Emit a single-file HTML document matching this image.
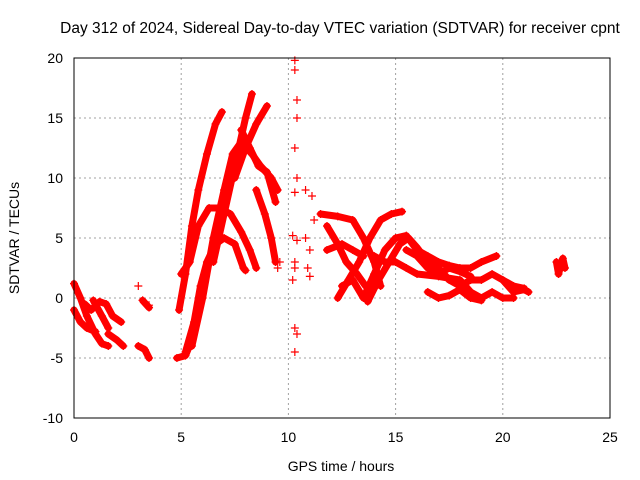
<!DOCTYPE html>
<html><head><meta charset="utf-8"><style>
body{margin:0;background:#fff;}
svg{display:block;font-family:"Liberation Sans",sans-serif;}
</style></head><body>
<svg id="chart" width="640" height="480">
<rect width="640" height="480" fill="#fff"/>
<text x="340" y="33" font-size="15.5" text-anchor="middle">Day 312 of 2024, Sidereal Day-to-day VTEC variation (SDTVAR) for receiver cpnt</text>
<text x="341" y="471" font-size="14" text-anchor="middle">GPS time / hours</text>
<text transform="translate(19,238) rotate(-90)" font-size="14" text-anchor="middle">SDTVAR / TECUs</text>
<g id="grid"></g><g id="marks"></g>
<rect x="74" y="58" width="536" height="360" fill="none" stroke="#000" stroke-width="1"/>
</svg>
<script>
const xTicks=[0,5,10,15,20,25];
const yTicks=[-10,-5,0,5,10,15,20];
const tracks=[
[[0,1.2],[0.3,0],[0.6,-1.5],[1,-3],[1.3,-3.8],[1.6,-4]],
[[0,-1],[0.3,-2],[0.6,-2.5],[1,-2.8]],
[[0.5,-0.5],[0.8,-1],[1.2,-0.3],[1.5,-0.5],[1.8,-1.5],[2.2,-2]],
[[1.6,-3],[2,-3.5],[2.3,-4]],
[[0.9,-0.2],[1.3,-1.5],[1.6,-2.5]],
[[3,-4],[3.3,-4.3],[3.5,-5]],
[[3.2,-0.2],[3.5,-0.8]],
[[4.8,-5],[5.2,-4.8],[5.5,-3.5]],
[[4.9,-1],[5.2,2],[5.5,6],[5.8,9],[6.2,12],[6.6,14.5],[6.9,15.5]],
[[5,2],[5.4,3],[5.8,6],[6.3,7.5],[6.8,7.5],[7.3,7],[7.8,5.5],[8.2,4],[8.5,2.5]],
[[5.2,-4.5],[5.6,-2],[5.9,1],[6.2,3],[6.6,4.5],[7,5],[7.5,4.5],[7.9,2.5],[8,2.3]],
[[5.5,-4],[6,0],[6.5,5],[7,9],[7.4,12],[7.8,13],[8.3,12],[8.7,11],[9.2,10],[9.5,9]],
[[6.5,3],[7,7],[7.5,11],[8,15],[8.3,17]],
[[7.5,10],[8,12.5],[8.5,14.5],[9,16]],
[[7.8,14],[8.2,12.5],[8.6,11],[9,10.5],[9.4,8]],
[[8.5,9],[8.9,7],[9.2,5],[9.4,3]],
[[11.5,7],[12.3,6.8],[13,6.5],[13.5,5],[14,3],[14.3,1]],
[[11.8,6],[12.3,4.5],[12.7,3],[13.2,2],[13.6,1]],
[[11.8,4],[12.5,4.5],[13,4],[13.5,3.5]],
[[12.3,0],[12.8,1.5],[13.3,3],[13.8,5],[14.3,6.5],[14.8,7],[15.3,7.2]],
[[12.5,1],[13,1.5],[13.5,0],[14,2],[14.5,4],[15,5],[15.5,5.2],[16,4],[16.5,3.5],[17,3],[17.5,2.7],[18,2.5],[18.5,2.5],[19,3],[19.7,3.5]],
[[13.7,-0.3],[14.2,1.5],[14.7,3],[15.2,4.5],[15.6,5],[16,4.2],[16.5,3],[17,2.5],[17.5,1.5],[18,1],[18.5,1.5],[19,1.5],[19.5,2],[20,1.5],[20.5,1],[21,0.8]],
[[14,3.5],[14.5,3],[15,3],[15.5,2.5],[16,2],[17,1.8],[18,1.5],[18.5,0.5],[19,0],[19.5,0.5],[20,0],[20.5,0]],
[[15.5,4],[16,3.5],[16.5,2.5],[17,2],[17.5,2.5],[18,2.2],[18.5,1.8]],
[[16.5,0.5],[17,0],[17.5,0.2],[18,0.7],[18.5,0],[19,-0.2]],
[[20,1.5],[20.5,0.5],[21,0.7],[21.2,0.5]],
[[22.5,3],[22.6,2],[22.8,3.3],[22.9,2.5]]
];
const scatterX=[3,3.2,3.5,10.3,10.3,10.4,10.4,10.3,10.4,10.3,10.2,10.4,10.3,10.3,10.2,10.4,10.3,10.3,10.8,11.1,10.8,11,10.9,11,11.2,9.5,9.6];
const scatterY=[1,-0.2,-0.6,19.8,19,16.5,15,12.5,10,8.8,5.2,4.8,3,2.5,1.5,-3,-4.5,-2.5,9,8.5,5,4,2.5,1.8,6.5,2.5,3];
const X=v=>74+v*536/25, Y=v=>418-(v+10)*12;
const NS="http://www.w3.org/2000/svg";
const svg=document.getElementById('chart'),grid=document.getElementById('grid'),marks=document.getElementById('marks');
function mk(t,a,p){const e=document.createElementNS(NS,t);for(const k in a)e.setAttribute(k,a[k]);p.appendChild(e);return e;}
xTicks.forEach(v=>{
 if(v>0&&v<25){const g=mk('line',{x1:X(v),x2:X(v),y1:58,y2:418,stroke:'#a0a0a0','stroke-dasharray':'2,3'},grid);
 
 }
 const t=mk('text',{x:X(v),y:442,'font-size':14,'text-anchor':'middle'},svg);t.textContent=v;
 
 
});
yTicks.forEach(v=>{
 if(v>-10&&v<20){const g=mk('line',{x1:74,x2:610,y1:Y(v),y2:Y(v),stroke:'#a0a0a0','stroke-dasharray':'2,3'},grid);
 
 }
 const t=mk('text',{x:63,y:Y(v)+5,'font-size':14,'text-anchor':'end'},svg);t.textContent=v;
 
 
});
function plus(x,y){
 const p=mk('path',{d:`M${X(x)-4},${Y(y)}h8M${X(x)},${Y(y)-4}v8`,stroke:'#f00','stroke-width':1.2},marks);
 
 
}
tracks.forEach(tr=>{
 const pl=mk('polyline',{points:tr.map(p=>X(p[0])+','+Y(p[1])).join(' '),fill:'none',stroke:'#f00','stroke-width':7,'stroke-linejoin':'round','stroke-linecap':'round'},marks);
 
 
 tr.forEach(p=>plus(p[0],p[1]));
});
scatterX.forEach((x,i)=>plus(x,scatterY[i]));
</script>
</body></html>
